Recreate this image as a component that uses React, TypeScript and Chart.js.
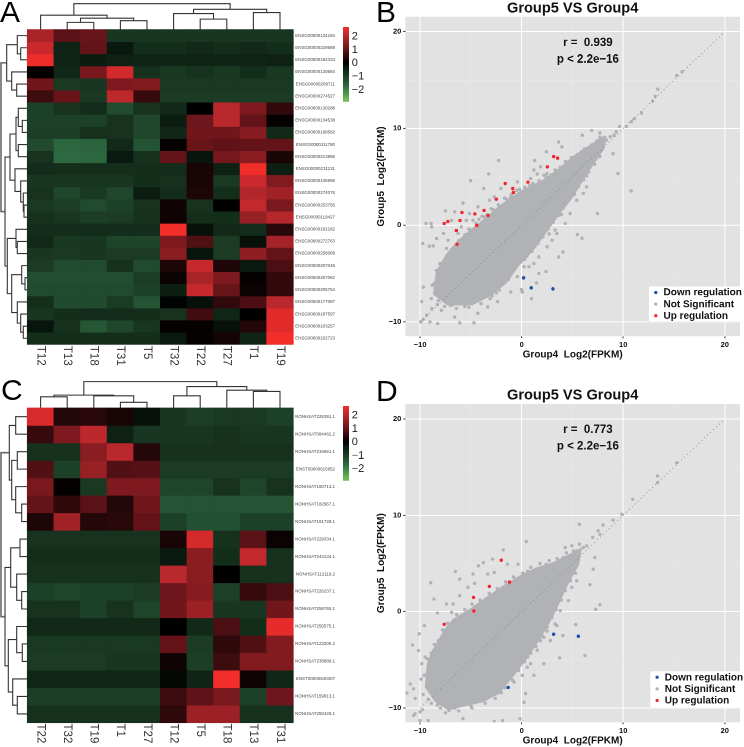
import React, { useEffect, useRef } from "react";
import { Chart, registerables } from "chart.js";
Chart.register(...registerables);

const FONT = "'Liberation Sans', Arial, sans-serif";

// ---------- Heatmap A ----------
const colsA = ["T12", "T13", "T18", "T31", "T5", "T32", "T22", "T27", "T1", "T19"];
const rowsA = ["ENSG00000134184","ENSG00000229689","ENSG00000192333","ENSG00000130684","ENSG00000209711","ENSG00000274527","ENSG00000130288","ENSG00000134538","ENSG00000198582","ENSG00000111780","ENSG00000213886","ENSG00000231131","ENSG00000105686","ENSG00000274076","ENSG00000253755","ENSG00000119427","ENSG00000192182","ENSG00000272763","ENSG00000258089","ENSG00000257046","ENSG00000257062","ENSG00000205754","ENSG00000177087","ENSG00000187597","ENSG00000103257","ENSG00000162723"];
const valuesA = [
  [1.8,0.9,1.05,-0.85,-0.85,-0.85,-0.85,-0.85,-0.85,-0.85],
  [2.2,-0.5,1.0,-0.3,-0.7,-0.7,-0.6,-0.7,-0.6,-0.7],
  [2.65,-0.5,-0.35,-0.45,-0.5,-0.5,-0.5,-0.5,-0.5,-0.45],
  [0.05,-0.55,1.25,2.3,-0.75,-0.9,-0.8,-0.9,-0.7,-0.9],
  [1.15,-0.9,-0.85,1.3,1.35,-0.9,-0.9,-0.9,-0.9,-0.9],
  [0.6,1.05,-0.9,2.05,0.55,-0.95,-0.95,-0.95,-0.95,-0.95],
  [-1.05,-0.8,-0.65,-1.2,-0.8,-0.6,0.0,2.0,1.3,0.5],
  [-1.05,-1.05,-1.05,-0.8,-1.15,-0.35,1.1,2.0,1.0,0.05],
  [-1.0,-1.0,-0.75,-0.8,-1.15,-0.55,1.15,1.15,1.4,-0.6],
  [-1.2,-1.65,-1.6,-0.6,-1.35,0.05,1.05,0.95,1.0,1.0],
  [-0.8,-1.7,-1.65,-0.3,-0.75,1.0,-0.25,1.2,1.45,0.25],
  [-0.65,-0.7,-0.7,-0.7,-0.7,-0.65,0.25,-0.45,2.7,-0.4],
  [-0.85,-0.85,-0.85,-0.85,-0.7,-0.75,0.25,-0.9,2.2,1.35],
  [-0.8,-1.15,-0.9,-1.15,-0.35,-0.65,0.3,-0.7,1.9,1.7],
  [-0.9,-1.0,-1.2,-1.05,-0.8,0.15,-0.8,0.0,2.1,1.25],
  [-0.75,-0.85,-1.0,-0.95,-0.75,0.15,-0.7,-0.7,1.6,1.95],
  [-0.65,-0.65,-0.65,-0.65,-0.65,2.72,-0.2,-0.6,-0.65,0.4],
  [-0.6,-0.9,-0.85,-1.1,-1.1,1.3,0.8,-0.95,-0.2,1.75],
  [-0.85,-0.9,-0.85,-0.95,-0.95,1.45,-0.25,-0.95,1.5,1.0],
  [-0.95,-1.2,-1.2,-0.75,-1.2,0.3,2.15,0.3,-0.3,0.75],
  [-1.25,-1.25,-1.25,-1.25,-1.0,0.1,1.8,1.3,0.05,0.5],
  [-1.2,-1.2,-1.2,-1.2,-1.05,-0.4,2.15,1.05,0.1,0.5],
  [-0.7,-1.2,-1.2,-0.95,-1.35,-0.05,-0.2,0.5,0.75,2.0],
  [-0.85,-0.7,-0.65,-0.65,-0.7,-0.8,0.65,-0.55,0.0,2.5],
  [-0.25,-0.75,-1.4,-1.15,-0.85,0.05,0.05,-0.2,0.35,2.5],
  [-0.7,-0.7,-0.7,-0.7,-0.7,-0.3,0.05,0.2,-0.5,2.72],
];
// Dendrograms: [left child, right child, merge height]; a number is a leaf index.
const topTreeA = [[0,[[1,2,7.3],[3,4,9],11.6],14.6],[[5,[6,7,10.6],16.3],[8,9,17.3],20.6],26.3];
const leftTreeA = [
  [[0,[1,2,6.6],10],[3,[4,5,10.6],15.6],20.6],
  [
    [[[6,[7,8,5],9],[9,10,9],11.3],[11,[12,[13,[14,15,3.3],4],6.6],12.3],17.3],
    [[16,[17,18,10],11.3],[[19,[20,21,2.3],5.6],[22,[23,[24,25,4],6.6],10],15.6],20],
    22.3,
  ],
  26.3,
];

// ---------- Heatmap C ----------
const colsC = ["T22", "T32", "T19", "T1", "T27", "T12", "T5", "T18", "T13", "T31"];
const rowsC = ["NONHSAT225391.1","NONHSAT084462.2","NONHSAT234661.1","ENST00000615852","NONHSAT160713.1","NONHSAT182967.1","NONHSAT191728.1","NONHSAT229334.1","NONHSAT244134.1","NONHSAT112119.2","NONHSAT226237.1","NONHSAT258765.1","NONHSAT250575.1","NONHSAT123206.2","NONHSAT238888.1","ENST00000640307","NONHSAT159813.1","NONHSAT250426.1"];
const valuesC = [
  [2.4,0.35,0.4,0.25,-0.2,-0.85,-1.0,-0.9,-0.9,-1.05],
  [0.55,1.3,2.05,-0.45,-0.85,-0.85,-0.85,-0.75,-0.85,-0.85],
  [-0.75,-0.75,1.45,2.0,0.35,-0.75,-0.75,-0.75,-0.75,-0.75],
  [0.8,-1.05,1.6,0.8,0.85,-0.95,-0.95,-0.95,-0.95,-0.95],
  [1.25,0.05,-0.9,1.3,1.3,-1.1,-1.1,-0.8,-1.1,-0.8],
  [1.0,0.45,0.9,0.35,1.15,-1.35,-1.35,-1.35,-1.35,-1.35],
  [0.3,1.7,0.35,0.4,1.0,-1.05,-1.3,-1.3,-1.05,-1.05],
  [-0.8,-0.8,-0.8,-0.8,-0.8,0.25,2.35,-0.75,0.9,0.1],
  [-0.7,-0.7,-0.7,-0.7,-0.7,-0.3,1.45,-0.7,2.1,-0.75],
  [-0.75,-0.75,-0.75,-0.75,-0.75,2.0,1.45,0.0,-0.75,-0.75],
  [-1.05,-1.1,-1.05,-1.05,-0.95,1.1,1.4,-1.05,0.55,0.75],
  [-0.8,-0.8,-1.05,-0.8,-1.1,1.15,1.65,-0.85,-0.85,1.15],
  [-0.6,-0.6,-0.6,-0.6,-0.6,0.0,-0.6,0.75,-0.7,2.55],
  [-0.9,-0.9,-0.9,-0.9,-0.9,1.0,-0.95,0.45,0.8,1.35],
  [-0.95,-0.95,-0.95,-0.85,-0.85,0.15,-1.0,0.6,1.35,1.35],
  [-0.55,-0.55,-0.55,-0.55,-0.55,-0.1,-0.5,2.72,0.15,-0.55],
  [-1.0,-1.0,-1.0,-1.0,-1.0,0.6,0.95,1.25,-1.05,1.1],
  [-0.75,-0.75,-0.75,-0.75,-0.75,0.45,1.65,1.65,-0.75,-0.75],
];
const topTreeC = [[[0,1,11.3],[2,[3,4,5.7],12.3],13],[[5,6,12.3],[7,[8,9,16.7],18],21.7],26.7];
const leftTreeC = [
  [[0,1,11.6],[[2,3,10],[4,[5,6,5.6],11.6],15.6],18],
  [
    [[7,8,7.3],[9,[10,11,5.6],10.6],16.6],
    [[12,[13,14,5],10.6],[15,[16,17,10],14.6],19],
    22.3,
  ],
  26.3,
];

// ---------- Colour key ----------
const keyStops = [-2.87,-2.6,-2.4,-2.2,-2,-1.8,-1.6,-1.4,-1.2,-1,-0.8,-0.6,-0.4,-0.2,0,0.2,0.4,0.6,0.8,1,1.2,1.4,1.6,1.8,2,2.2,2.4,2.7];
const keyTicks = [2, 1, 0, -1, -2];
const paletteValues = [-2.87, -1.7, -1, -0.3, 0, 1, 2, 2.72];
const paletteColours = [[115,195,85],[45,105,65],[28,62,38],[10,25,15],[0,0,0],[100,20,25],[185,40,45],[243,45,42]];

// ---------- Scatter B ----------
const cloudUpperB = [[-8.7,-7.1],[-8.4,-4.8],[-7.4,-3],[-6.4,-1.75],[-5.1,-0.55],[-3.8,0.5],[-2.5,1.7],[-1.2,2.75],[-0.2,3.45],[2.1,4.65],[3.7,5.85],[5,7.05],[6.3,7.95],[7.9,9.1],[8.3,9.2]];
const cloudLowerB = [[-8.7,-7.1],[-7.3,-8.25],[-4.9,-8.25],[-3.2,-7.35],[-1.55,-6],[-0.25,-4.1],[1.05,-2.7],[2.35,-0.8],[3.65,1.1],[4.95,2.8],[6.25,5.05],[7.25,6.6],[8.1,7.9],[8.3,9.2]];
const grayB = [[15.26,15.48],[15.8,15.86],[13.4,14.07],[13.15,13.34],[12.9,12.83],[11.8,11.6],[10.8,10.7],[11.1,11],[10.3,10.2],[9.64,10.2],[9.3,9.66],[9.1,9.3],[8.73,9.14],[8.34,8.8],[6.9,9.8],[5.97,9.3],[7.7,9.55],[3.64,8.6],[3.96,8.1],[2.44,7.6],[-2.27,6.7],[1.27,6.7],[-3.25,5.3],[-5.03,4.6],[-3.73,3.8],[9.48,5.34],[10.78,3.55],[7.47,1.2],[5.49,-0.97],[5.94,-1.34],[4.06,-2.76],[3.64,-3.28],[2.4,-4.8],[1.69,-5],[1.46,-5.97],[-0.03,-6.66],[0.97,-7.6],[0.06,-6.9],[-9.74,-1.9],[-9.42,0.17],[-8.93,0.17],[-8.86,-0.17],[-9.09,-2.17],[-8.7,-2.14],[-8.38,-1.38],[-7.5,1.48],[-7.7,-0.86],[-6.6,1.38],[-5.78,2.3],[-5.45,0.5],[-6.9,0.5],[-7.24,-1.55],[-7.4,-2.4],[-8.05,-3.97],[-8.4,-4.66],[-9.68,-6.4],[-9.84,-7.9],[-9.93,-10],[-9.7,-9.76],[-9.03,-10],[-8.28,-10.17],[-6.6,-9.5],[-6.1,-10.1],[-4.7,-10.1],[-4.32,-9.1],[-6.43,-8.6],[-7.9,-8.8],[-8.86,-8.6],[-9.35,-9.3],[-3.34,-8.45],[-2.37,-7.9],[-1.07,-6.9],[1.53,5.3],[1.85,6.03],[1.2,5.7],[2.18,5.17],[2.5,5.34],[3,5],[0.88,4.83],[-0.42,4.48],[-1.07,2.93],[-2.05,3.8],[-2.7,2.93],[-3.18,2.59],[-4.3,1.9],[-5.13,1.2],[-3.67,0.86],[-4.8,0.52],[-5.94,-0.17],[-6.27,-0.86],[5.26,7.07],[5.75,7.34],[4.77,6.38],[9,7.4],[6.07,3.28],[6.4,3.97],[5.42,2.59],[4.77,1.2],[4.29,0.17],[3.3,-0.5],[3,-1.55],[2.5,-2.24],[3.47,-0.86],[1.69,-3.28],[1.2,-3.97],[0.71,-4.3],[0.23,-4.3],[-0.42,-5.3],[-8.9,-7.6],[-8.3,-8.2],[-8.8,-6.2],[-7.6,-8.4],[-6.8,-8.2],[-5.6,-8.4],[-2.9,-7.3],[-2.2,-6.7],[-1.3,-5.6],[-0.9,-4.4],[0.3,-3.5],[1.3,-2.2],[2.7,-0.9],[3.9,1.1],[5.2,3.2],[6.4,5.1],[-7.9,-4.2],[-7.1,-2.9],[-6.2,-1.6],[-5.2,-0.4],[-4.2,0.6],[-3,1.7],[-1.7,2.8],[-0.5,3.6],[0.8,4.1],[2.9,5.2],[4.4,6.2],[5.9,7.6],[-8.6,-6],[-8.1,-4.7],[-7.6,-3.6],[-6.9,-2.5],[-6.5,-2.3],[-5.6,-1],[-5,-0.5],[-4.5,0.2],[-3.9,0.9],[-3.4,1.1],[-2.8,1.6],[-2.3,2.1],[-1.5,2.7],[-1,3.2],[-0.2,3.7],[0.3,3.9],[1.1,4.3],[1.7,4.6],[2.4,5],[3.3,5.7],[3.8,6],[4.3,6.6],[4.9,7],[5.5,7.3],[6.2,7.9],[6.9,8.3],[7.4,8.7],[7.7,9.1],[-8.2,-7.8],[-7,-8.3],[-5.2,-8.5],[-4,-8.1],[-3.1,-7.6],[-2.5,-7],[-1.9,-6.1],[-1.2,-5.2],[-0.7,-4.6],[-0.1,-3.8],[0.5,-3.2],[1,-2.7],[1.6,-1.9],[2.1,-1.2],[2.6,-0.4],[3.1,0.3],[3.6,1],[4.1,1.8],[4.6,2.6],[5.1,3.3],[5.6,4],[6.1,4.7],[6.6,5.5],[7.2,6.3],[7.7,7.1]];
const upB = [[-7.63,0.17],[-7.27,0.38],[-6.43,-0.55],[-6.36,-1.97],[-6.07,0.48],[-5.88,1.31],[-4.61,1.17],[-4.42,-0.03],[-3.7,1.52],[-3.31,1],[-2.5,2.69],[-1.62,4.31],[-0.88,3.79],[-0.81,3.38],[0.62,4.45],[2.53,6.03],[3.15,7.1],[3.54,6.93]];
const downB = [[0.19,-5.45],[0.94,-6.48],[3.08,-6.59]];

// ---------- Scatter D ----------
const cloudUpperD = [[-9.5,-7.8],[-9.3,-5.5],[-8.9,-4.25],[-8.2,-3],[-7.55,-1.8],[-6.75,-0.8],[-5.1,0.25],[-3.5,1.45],[-1.85,2.65],[-0.2,3.7],[1.45,4.55],[3.05,5.05],[4.65,5.9],[5.9,6.6]];
const cloudLowerD = [[-9.5,-7.8],[-8.5,-9.35],[-7.2,-10.2],[-5.9,-9.85],[-3.85,-9.35],[-2.2,-8.45],[-0.9,-6.75],[0.4,-5],[1.7,-2.95],[2.7,-1.2],[3.65,0.85],[4.65,3.1],[5.6,4.85],[5.9,6.6]];
const grayD = [[15.26,15.45],[13.38,13.38],[13.38,14.07],[10.94,11.66],[9.87,10.1],[9,9.5],[8.02,9],[7.53,8.4],[7.7,8.03],[5.68,9.07],[7,7.7],[6.4,6.83],[6.07,6.66],[5.42,6.31],[4.94,6.83],[4.29,6.66],[0.45,7.28],[-1.82,6.41],[-2.86,5.45],[-1.4,4.93],[-0.36,4.93],[-3.77,5.1],[-4.25,4.76],[-4.8,3.9],[-6.53,4.17],[-8.96,3],[-2.7,4.07],[-3.34,3.9],[-6.1,3.38],[-5.3,2.52],[-4.64,2.93],[-8.64,1.31],[-6.75,0.79],[-7.4,0.79],[-8.3,-0.14],[-6.1,1.66],[-6.9,-0.07],[-10.1,-2.3],[-9.58,-1.45],[-10.75,-3.45],[-10.16,-4.03],[-9.5,-4.7],[-9.84,-5.4],[-10.97,-7.5],[-10.65,-8],[-11.3,-8.45],[-10.49,-9],[-10.65,-10.76],[-10.5,-10.6],[-10,-10.4],[-9.77,-10.17],[-10,-11.3],[-9.2,-11.3],[-7.17,-10.24],[-5.78,-11.1],[-2.7,-11.4],[-1.88,-11.3],[-0.16,-11.1],[0.23,-9.4],[0.39,-8.5],[-0.75,-7.3],[0.06,-6.6],[1.2,-6.6],[2.18,-5.4],[3.73,-4.8],[6.23,-4.55],[3.47,-1.45],[5.32,-1.34],[4.06,-2.48],[1.85,-3],[2.82,-3],[1.53,-4],[7.3,0.24],[7.7,0.72],[6.72,2.8],[7.05,4.41],[7.2,5.62],[5.42,3.2],[4.94,2.52],[4.6,1.14],[3.8,0.1],[3.3,-1.28],[2.5,-2],[2.18,-2.66],[0.88,-5.4],[0.55,-5.76],[-9.7,-8.6],[-9.9,-7],[-9.3,-6.4],[-8.9,-9.5],[-8,-10],[-6.6,-10],[-5,-9.8],[-3.4,-9],[-2,-8.4],[-0.8,-6.2],[0.6,-4.7],[1.8,-2.6],[3,-0.2],[4.2,2.6],[5.1,4.6],[-8.9,-4.3],[-8.2,-3],[-7.1,-1.6],[-6.1,-0.6],[-4.6,0.5],[-2.9,1.7],[-1.2,3],[0.6,4.2],[2.4,4.9],[4.1,5.6],[-9.6,-6.6],[-9.3,-4.9],[-8.6,-3.4],[-7.8,-1.9],[-7.3,-1.2],[-6.4,-0.3],[-5.6,0.2],[-4.9,0.8],[-4.1,1.2],[-3.2,1.9],[-2.4,2.4],[-1.6,3.1],[-0.8,3.6],[0.1,4],[0.9,4.6],[1.8,5],[2.7,5.3],[3.5,5.5],[4.4,6.1],[5.1,6.3],[5.7,7],[-9.2,-9.1],[-8.3,-9.7],[-7.5,-10.5],[-6.2,-10.3],[-4.9,-10],[-3.6,-9.5],[-2.6,-9],[-1.6,-7.9],[-0.9,-7.1],[-0.3,-6.1],[0.3,-5.2],[0.9,-4.3],[1.4,-3.6],[2,-2.5],[2.5,-1.6],[3,-0.6],[3.4,0.2],[3.9,1.2],[4.3,2.2],[4.8,3.2],[5.3,4]];
const upD = [[-7.63,-1.31],[-4.71,0.07],[-4.74,1.48],[-3.18,2.62],[-2.01,5.34],[-1.2,3.07]];
const downD = [[3.15,-2.34],[5.58,-2.55],[-1.33,-7.86]];

const diagonal = [[-10,-10],[20,20]];
const legendNames = ["Down regulation", "Not Significant", "Up regulation"];
const GRAY = "#b1b2b6", RED = "#f0262c", BLUE = "#1c4fae";

function colourOf(v: number) {
  const p = paletteValues;
  let i = 0;
  while (i < p.length - 2 && v > p[i + 1]) i++;
  const t = Math.max(0, Math.min(1, (v - p[i]) / (p[i + 1] - p[i])));
  const a = paletteColours[i], b = paletteColours[i + 1];
  return `rgb(${a.map((c, k) => Math.round(c + (b[k] - c) * t)).join(",")})`;
}

type Tree = number | any[];
function walk(n: Tree, out: number[][][]): { p: number; h: number } {
  if (typeof n === "number") return { p: n + 0.5, h: 0 };
  const a = walk(n[0], out), b = walk(n[1], out), h = n[2];
  out.push([[a.p, a.h], [a.p, h], [b.p, h], [b.p, b.h]]);
  return { p: (a.p + b.p) / 2, h };
}

const COL_W = 26.6, LEFT = 27.3;

function Heatmap({ top, h, gridTop, rowH, cols, rows, values, topTree, leftTree, labelY }: any) {
  const ref = useRef<HTMLCanvasElement>(null);
  useEffect(() => {
    const datasets: any[] = [];
    values.forEach((row: number[], r: number) => {
      datasets.push({
        type: "bar",
        grouped: false,
        barThickness: COL_W,
        borderWidth: 0,
        data: row.map((_: number, c: number) => ({ x: c + 0.5, y: [r, r + 1] })),
        backgroundColor: row.map(colourOf),
      });
    });
    const line = (pts: any[], isRoot: boolean) => ({
      type: "scatter",
      showLine: true,
      data: pts,
      borderColor: isRoot ? "#6a6a6a" : "#333333",
      borderWidth: isRoot ? 1.6 : 1.1,
      pointRadius: 0,
      borderJoinStyle: "miter",
    });
    const t: number[][][] = [];
    walk(topTree, t);
    t.forEach((s) => datasets.push(line(s.map(([p, v]) => ({ x: p, y: -v / rowH })), false)));
    const l: number[][][] = [];
    walk(leftTree, l);
    l.forEach((s, i) => datasets.push(line(s.map(([p, v]) => ({ x: -v / COL_W, y: p })), i === l.length - 1)));
    datasets.push({
      type: "scatter",
      showLine: true,
      data: [{ x: 0, y: 0 }, { x: 0, y: rows.length }, { x: cols.length, y: rows.length }],
      borderColor: "#9a9a9a",
      borderWidth: 0.8,
      pointRadius: 0,
    });
    const chart = new Chart(ref.current!, {
      type: "bar",
      data: { datasets },
      options: {
        animation: false,
        responsive: false,
        devicePixelRatio: 2,
        layout: { padding: 0 },
        plugins: { legend: { display: false }, tooltip: { enabled: false } },
        scales: {
          x: {
            type: "linear",
            offset: false,
            position: { y: labelY },
            min: -LEFT / COL_W,
            max: (372 - LEFT) / COL_W,
            grid: { display: false, drawTicks: false },
            border: { display: false },
            afterBuildTicks: (s: any) => { s.ticks = cols.map((_: string, i: number) => ({ value: i + 0.5 })); },
            ticks: {
              autoSkip: false,
              minRotation: 270,
              maxRotation: 270,
              padding: 0,
              color: "#333",
              font: { family: FONT, size: 11.5 },
              callback: (v: any) => { const n = cols[Math.floor(v)]; return n.length < 3 ? n + "\u00A0\u00A0" : n; },
            },
          },
          y: {
            type: "linear",
            reverse: true,
            position: { x: (335 - LEFT) / COL_W },
            min: -gridTop / rowH,
            max: (h - gridTop) / rowH,
            grid: { display: false, drawTicks: false },
            border: { display: false },
            afterBuildTicks: (s: any) => { s.ticks = rows.map((_: string, i: number) => ({ value: i + 0.5 })); },
            ticks: {
              autoSkip: false,
              padding: 0,
              color: "#444",
              font: { family: FONT, size: 4.45 },
              callback: (v: any) => rows[Math.floor(v)],
            },
          },
        },
      } as any,
    });
    return () => chart.destroy();
  }, []);
  return <canvas ref={ref} width={372} height={h} style={{ position: "absolute", left: 0, top, width: 372, height: h }} />;
}

function ColourKey({ top, keyTop, keyH }: any) {
  const ref = useRef<HTMLCanvasElement>(null);
  useEffect(() => {
    const datasets = keyStops.slice(0, -1).map((s, i) => ({
      data: [[s, keyStops[i + 1]]],
      backgroundColor: colourOf((s + keyStops[i + 1]) / 2),
      grouped: false,
      borderWidth: 0,
      barPercentage: 1,
      categoryPercentage: 1,
    }));
    const chart = new Chart(ref.current!, {
      type: "bar",
      data: { labels: [""], datasets },
      options: {
        animation: false,
        responsive: false,
        devicePixelRatio: 2,
        layout: { padding: { top: keyTop, bottom: 8, left: 0, right: 0 } },
        plugins: { legend: { display: false }, tooltip: { enabled: false } },
        scales: {
          x: { display: false },
          y: {
            position: "right",
            min: -2.87,
            max: 2.7,
            grid: { display: false, drawTicks: false },
            border: { display: false },
            afterFit: (s: any) => { s.width = 34; },
            afterBuildTicks: (s: any) => { s.ticks = keyTicks.map((value) => ({ value })); },
            ticks: {
              padding: 2.7,
              color: "#222",
              font: { family: FONT, size: 11 },
              callback: (v: any) => (v < 0 ? "\u2212" + -v : String(v)),
            },
          },
        },
      } as any,
    });
    return () => chart.destroy();
  }, []);
  const H = keyTop + keyH + 8;
  return <canvas ref={ref} width={40} height={H} style={{ position: "absolute", left: 343, top, width: 40, height: H }} />;
}

const toXY = (a: number[][]) => a.map(([x, y]) => ({ x, y }));

function Scatter({ top, h, plotTop, plotBottom, upper, lower, gray, up, down, r, legendBox }: any) {
  const ref = useRef<HTMLCanvasElement>(null);
  useEffect(() => {
    const pts = (data: number[][], color: string, order: number) => ({
      data: toXY(data),
      backgroundColor: color,
      borderWidth: 0,
      pointRadius: 1.7,
      order,
    });
    const decor = {
      id: "decor",
      beforeDraw(c: any) {
        const a = c.chartArea;
        c.ctx.save();
        c.ctx.fillStyle = "#e2e2e2";
        c.ctx.fillRect(a.left, a.top, a.right - a.left, a.bottom - a.top);
        c.ctx.restore();
      },
      afterDraw(c: any) {
        const ctx = c.ctx, sx = c.scales.x, sy = c.scales.y;
        ctx.save();
        ctx.fillStyle = "#111";
        ctx.textAlign = "center";
        ctx.textBaseline = "middle";
        ctx.font = `bold 11.5px ${FONT}`;
        ctx.fillText(r, sx.getPixelForValue(6.52), sy.getPixelForValue(18.85));
        ctx.fillText("p < 2.2e\u221216", sx.getPixelForValue(6.52), sy.getPixelForValue(17.15));
        const b = legendBox;
        ctx.fillStyle = "#fff";
        ctx.fillRect(b.x, b.y, c.chartArea.right - b.x, b.h);
        ctx.font = `bold 10px ${FONT}`;
        ctx.textAlign = "left";
        legendNames.forEach((name, i) => {
          const yy = b.y + 5.9 + i * 11.65;
          ctx.fillStyle = [BLUE, GRAY, RED][i];
          ctx.beginPath();
          ctx.arc(b.x + 6.8, yy, 1.6, 0, Math.PI * 2);
          ctx.fill();
          ctx.fillStyle = "#111";
          ctx.fillText(name, b.x + 14.5, yy + 0.3);
        });
        ctx.restore();
      },
    };
    const axis = (isX: boolean, min: number, max: number, title: string) => ({
      type: "linear",
      min,
      max,
      position: isX ? "bottom" : "left",
      border: { display: false },
      grid: {
        color: (c: any) => (c.tick && c.tick.value % 10 === 0 ? "#ffffff" : "#ebebeb"),
        lineWidth: (c: any) => (c.tick && c.tick.value % 10 === 0 ? 1 : 0.5),
        tickColor: (c: any) => (c.tick && c.tick.value % 10 === 0 ? "#333" : "rgba(0,0,0,0)"),
        tickLength: 2,
      },
      afterFit: (s: any) => {
        if (isX) s.height = h - plotBottom;
        else s.width = 33.3;
      },
      title: {
        display: true,
        text: title,
        color: "#111",
        font: { family: FONT, size: 10, weight: "bold" },
        padding: isX ? { top: 0, bottom: 0.5 } : { top: 3, bottom: 0 },
      },
      ticks: {
        stepSize: 5,
        includeBounds: false,
        autoSkip: false,
        maxRotation: 0,
        padding: 2,
        color: "#111",
        font: { family: FONT, size: 7.5, weight: "bold" },
        callback: (v: number) => (v % 10 === 0 ? (v < 0 ? "\u2212" + -v : String(v)) : ""),
      },
    });
    const chart = new Chart(ref.current!, {
      type: "scatter",
      data: {
        datasets: [
          { data: toXY(upper), showLine: true, fill: "+1", backgroundColor: GRAY, borderColor: GRAY, borderWidth: 1, pointRadius: 0, order: 10 },
          { data: toXY(lower), showLine: true, fill: false, borderColor: GRAY, borderWidth: 1, pointRadius: 0, order: 11 },
          pts(gray, GRAY, 9),
          { data: toXY(diagonal), showLine: true, borderColor: "#8d8d90", borderWidth: 0.9, borderDash: [1, 3], pointRadius: 0, order: 5 },
          pts(down, BLUE, 2),
          pts(up, RED, 1),
        ],
      },
      options: {
        animation: false,
        responsive: false,
        devicePixelRatio: 2,
        layout: { padding: { top: plotTop - 16.7, right: 0.3, left: 0, bottom: 0 } },
        plugins: {
          legend: { display: false },
          tooltip: { enabled: false },
          title: {
            display: true,
            text: "Group5 VS Group4",
            fullSize: false,
            color: "#111",
            font: { family: FONT, size: 14.6, weight: "bold", lineHeight: 1 },
            padding: { top: 1, bottom: 1.1 },
          },
        },
        scales: {
          x: axis(true, -11.46, 21.5, "Group4  Log2(FPKM)"),
          y: axis(false, -11.48, 21.55, "Group5  Log2(FPKM)"),
        },
      } as any,
      plugins: [decor],
    });
    return () => chart.destroy();
  }, []);
  return <canvas ref={ref} width={372} height={h} style={{ position: "absolute", left: 372, top, width: 372, height: h }} />;
}

const Letter = ({ x, y, t }: any) => (
  <div style={{ position: "absolute", left: x, top: y, font: `30px/30px ${FONT}`, color: "#000" }}>{t}</div>
);

export default function App() {
  return (
    <div style={{ position: "fixed", left: 0, top: 0, width: 744, height: 747, background: "#fff", overflow: "hidden" }}>
      <Heatmap top={0} h={375} gridTop={27.3} rowH={12.28} cols={colsA} rows={rowsA} values={valuesA} topTree={topTreeA} leftTree={leftTreeA} labelY={(368.3 - 27.3) / 12.28} />
      <Heatmap top={375} h={372} gridTop={30.7} rowH={17.74} cols={colsC} rows={rowsC} values={valuesC} topTree={topTreeC} leftTree={leftTreeC} labelY={(371 - 30.7) / 17.74} />
      <ColourKey top={0} keyTop={27} keyH={76} />
      <ColourKey top={375} keyTop={30.7} keyH={76} />
      <Scatter top={0} h={360.7} plotTop={16.7} plotBottom={336} upper={cloudUpperB} lower={cloudLowerB} gray={grayB} up={upB} down={downB} r={"r =  0.939"} legendBox={{ x: 277, y: 285.7, h: 34.3 }} />
      <Scatter top={374} h={373} plotTop={30} plotBottom={348.3} upper={cloudUpperD} lower={cloudLowerD} gray={grayD} up={upD} down={downD} r={"r =  0.773"} legendBox={{ x: 278.3, y: 297.3, h: 36 }} />
      <Letter x={0} y={-3} t="A" />
      <Letter x={376} y={-3} t="B" />
      <Letter x={1} y={375} t="C" />
      <Letter x={376} y={376} t="D" />
    </div>
  );
}
